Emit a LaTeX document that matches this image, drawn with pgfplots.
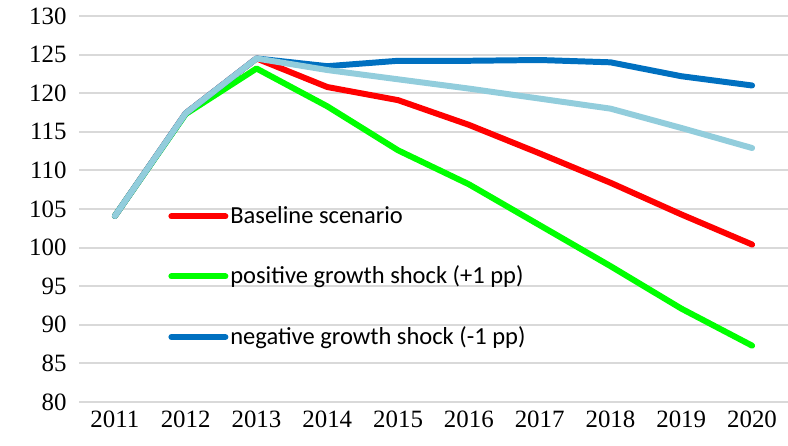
\documentclass[border=0pt]{standalone}
\usepackage{fontspec}
\setmainfont{Liberation Serif}
\newfontfamily\calfont{Carlito}
\newfontfamily\tickfont{Liberation Serif}
\usepackage{pgfplots}
\pgfplotsset{compat=1.18}
\definecolor{gridgray}{HTML}{D9D9D9}
\definecolor{dblue}{HTML}{0070C0}
\definecolor{lblue}{HTML}{92CDDC}
\definecolor{lgreen}{HTML}{00FF00}
\begin{document}
\begin{tikzpicture}
\begin{axis}[
  scale only axis,
  width=354bp, height=193bp,
  xmin=2010.5, xmax=2020.5,
  ymin=80, ymax=130,
  ytick={80,85,...,130},
  xtick={2011,...,2020},
  xticklabel={\tickfont\fontsize{12.5}{14}\selectfont\pgfmathprintnumber[assume math mode=true,1000 sep={}]{\tick}},
  yticklabel={\tickfont\fontsize{12.5}{14}\selectfont\pgfmathprintnumber[assume math mode=true,1000 sep={}]{\tick}},
  yticklabel style={xshift=-3bp},
  xticklabel style={yshift=-1bp},
  axis line style={draw=none},
  tick style={draw=none},
  ymajorgrids,
  grid style={gridgray, line width=1.1pt},
  clip=false,
  legend style={draw=none, fill=none, at={(rel axis cs:0.125,0.324)}, anchor=west,
    font=\calfont\fontsize{12.3}{14}\selectfont, row sep=15.8bp, inner xsep=0pt,
    nodes={inner xsep=1bp},
    cells={anchor=west}},
  legend cell align=left,
  legend image code/.code={\draw[#1, line width=3pt, line cap=round] (0bp,0bp) -- (27bp,0bp);},
  every axis plot/.append style={line width=3pt, line cap=round, line join=round},
]
\addplot[red] coordinates {(2011,104.1)(2012,117.4)(2013,124.5)(2014,120.8)(2015,119.1)(2016,115.9)(2017,112.2)(2018,108.4)(2019,104.3)(2020,100.4)};
\addlegendentry{Baseline scenario}
\addplot[lgreen] coordinates {(2011,104.1)(2012,117.3)(2013,123.2)(2014,118.3)(2015,112.6)(2016,108.2)(2017,102.9)(2018,97.6)(2019,92.1)(2020,87.3)};
\addlegendentry{positive growth shock (+1 pp)}
\addplot[dblue] coordinates {(2011,104.1)(2012,117.4)(2013,124.5)(2014,123.5)(2015,124.2)(2016,124.2)(2017,124.3)(2018,124.0)(2019,122.2)(2020,121.0)};
\addlegendentry{negative growth shock (-1 pp)}
\addplot[lblue, forget plot] coordinates {(2011,104.1)(2012,117.4)(2013,124.5)(2014,123.0)(2015,121.8)(2016,120.6)(2017,119.3)(2018,118.0)(2019,115.5)(2020,112.9)};
\end{axis}
\pgfresetboundingbox
\path[use as bounding box] (current axis.south west) ++(-39.75bp,-22bp) rectangle ++(394bp,223bp);
\end{tikzpicture}
\end{document}
